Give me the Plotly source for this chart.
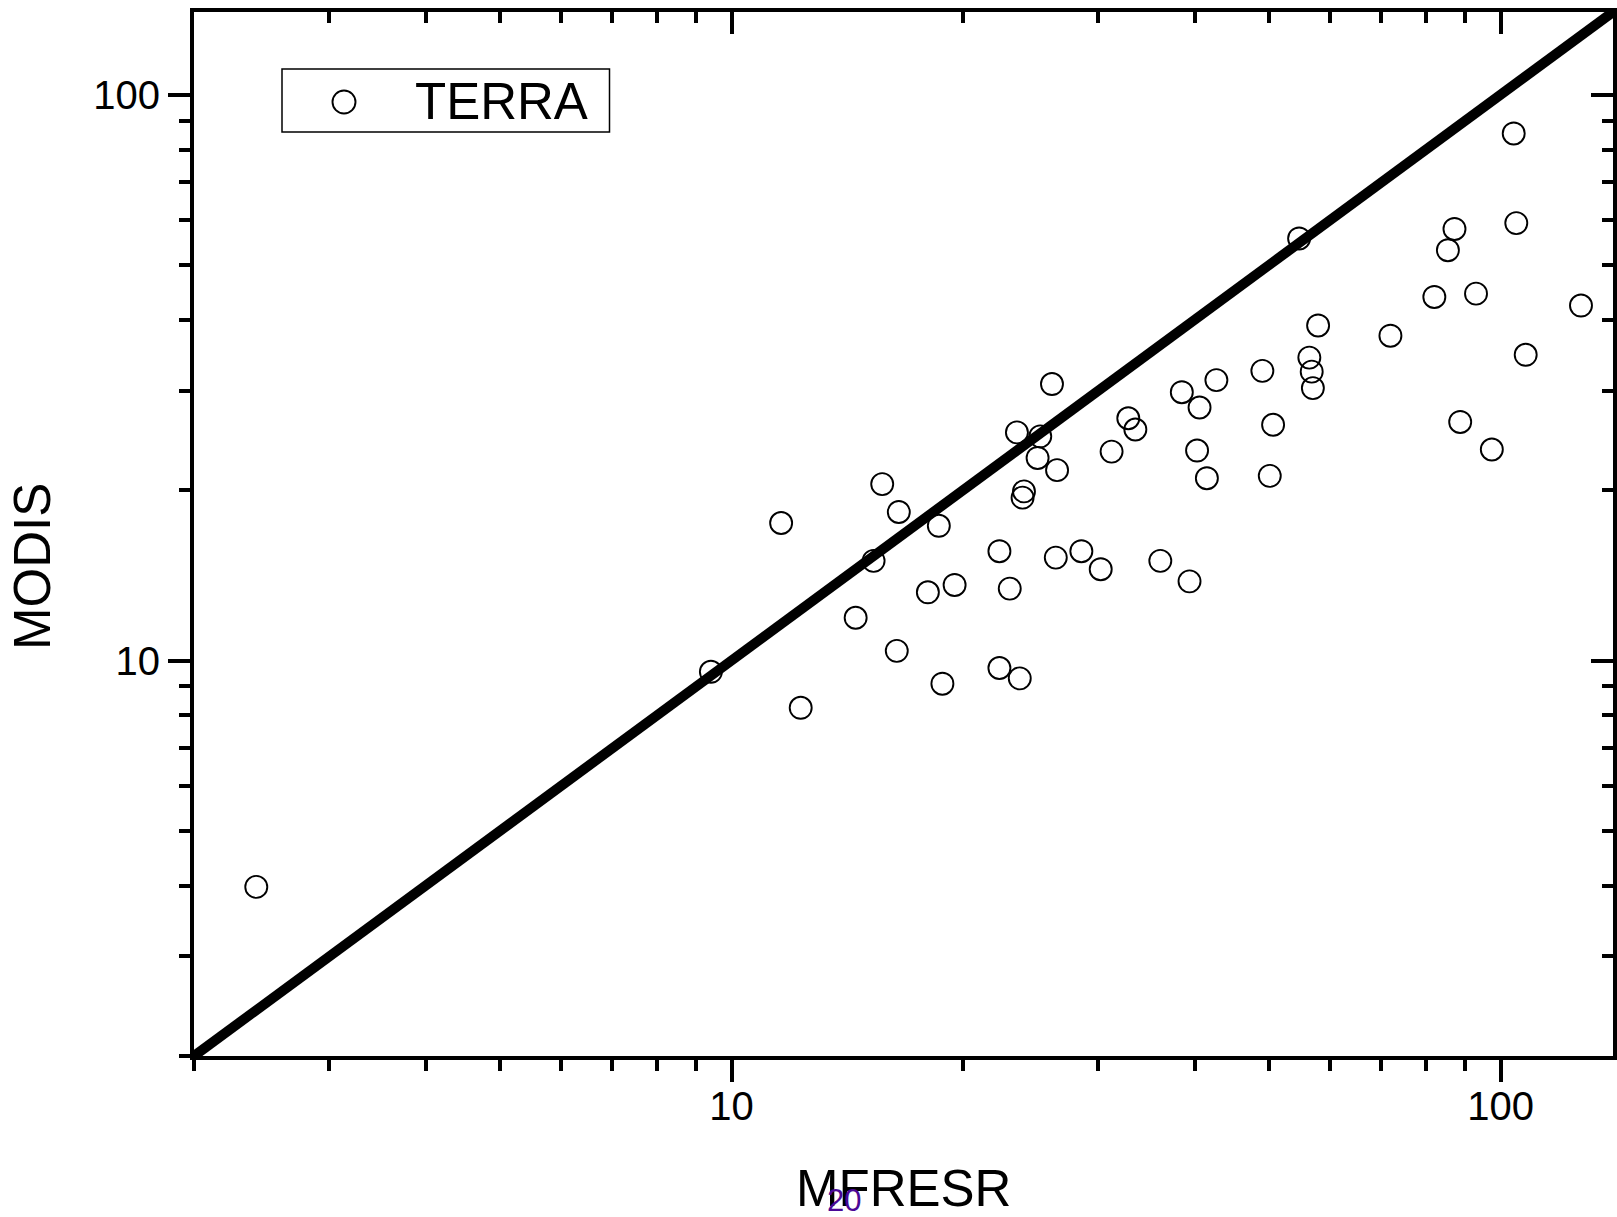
import plotly.graph_objects as go
import math

# ---- data ----
mfresr = [2.41, 9.4, 11.6, 12.3, 14.5, 15.3, 15.7, 16.4, 16.5, 18.0, 18.6, 18.8, 19.5,
          22.3, 22.3, 23.0, 23.5, 23.7, 23.9, 24.0, 25.0, 25.2, 26.1, 26.4, 26.5, 28.5,
          30.2, 31.2, 32.8, 33.5, 36.1, 38.5, 39.4, 40.3, 40.6, 41.5, 42.7, 49.0, 50.1,
          50.6, 54.7, 56.4, 56.8, 57.0, 57.9, 71.9, 82.0, 85.4, 87.1, 88.6, 92.9, 97.4,
          104.0, 104.8, 107.8, 127.2]
modis = [3.98, 9.55, 17.5, 8.25, 11.9, 15.0, 20.5, 10.4, 18.3, 13.2, 17.3, 9.1, 13.6,
         15.6, 9.7, 13.4, 25.3, 9.3, 19.4, 19.9, 22.8, 24.9, 30.8, 15.2, 21.7, 15.6,
         14.5, 23.4, 26.8, 25.6, 15.0, 29.8, 13.8, 23.5, 28.0, 21.0, 31.3, 32.5, 21.2,
         26.1, 55.7, 34.3, 32.4, 30.3, 39.1, 37.5, 43.9, 53.1, 57.9, 26.4, 44.5, 23.6,
         85.4, 59.3, 34.7, 42.4]
one_to_one = [2, 140]
axis_range = [2, 140]
major_ticks = [10, 100]
major_labels = ["10", "100"]
minor_ticks = [2, 3, 4, 5, 6, 7, 8, 9, 20, 30, 40, 50, 60, 70, 80, 90]
x_title = "MFRESR"
y_title = "MODIS"
series_name = "TERRA"
stray_label = "20"

FONT = "Liberation Sans, Arial, sans-serif"
W, H = 1617, 1217
L, R, T, B = 194, 4, 12, 161
PW, PH = W - L - R, H - T - B


def px_x(px):
    return (px - L) / PW


def px_y(py):
    return (H - B - py) / PH


lrange = [math.log10(v) for v in axis_range]

fig = go.Figure()
fig.add_trace(go.Scatter(
    x=mfresr, y=modis, mode="markers", name=series_name, showlegend=False,
    marker=dict(symbol="circle-open", size=22, color="black", line=dict(width=1.9, color="black")),
))
fig.add_trace(go.Scatter(
    x=one_to_one, y=one_to_one, mode="lines", showlegend=False,
    line=dict(color="black", width=10),
))
# invisible helpers so the mirrored (top / right) axes get drawn
fig.add_trace(go.Scatter(x=one_to_one, y=one_to_one, xaxis="x2", yaxis="y", mode="lines",
                         opacity=0, showlegend=False, hoverinfo="skip"))
fig.add_trace(go.Scatter(x=one_to_one, y=one_to_one, xaxis="x", yaxis="y2", mode="lines",
                         opacity=0, showlegend=False, hoverinfo="skip"))

common = dict(
    type="log", range=lrange, showgrid=False, zeroline=False,
    showline=True, linecolor="black", linewidth=4,
    tickmode="array", tickvals=major_ticks, ticktext=major_labels,
    ticklen=22, tickwidth=4, tickcolor="black",
    tickfont=dict(family=FONT, size=40, color="black"),
    minor=dict(tickmode="array", tickvals=minor_ticks, ticklen=11, tickwidth=4, tickcolor="black"),
)

xa = dict(common)
xa.update(ticks="outside", ticklabelstandoff=-10)
xa["minor"] = dict(common["minor"], ticks="outside")
ya = dict(common)
ya.update(ticks="outside")
ya["minor"] = dict(common["minor"], ticks="outside")

xa2 = dict(common)
xa2.update(ticks="inside", overlaying="x", side="top", anchor="y", showticklabels=False)
xa2["minor"] = dict(common["minor"], ticks="inside")
ya2 = dict(common)
ya2.update(ticks="inside", overlaying="y", side="right", anchor="x", showticklabels=False)
ya2["minor"] = dict(common["minor"], ticks="inside")

fig.update_layout(
    width=W, height=H,
    margin=dict(l=L, r=R, t=T, b=B, pad=0),
    paper_bgcolor="white", plot_bgcolor="white",
    font=dict(family=FONT, color="black"),
    xaxis=xa, yaxis=ya, xaxis2=xa2, yaxis2=ya2,
    showlegend=False,
)

# axis titles
fig.add_annotation(text=x_title, xref="paper", yref="paper", x=px_x(903), y=px_y(1188),
                   xanchor="center", yanchor="middle", showarrow=False,
                   font=dict(family=FONT, size=51, color="black"))
fig.add_annotation(text=y_title, xref="paper", yref="paper", x=px_x(33), y=px_y(567),
                   xanchor="center", yanchor="middle", showarrow=False, textangle=-90,
                   font=dict(family=FONT, size=51, color="black"))
fig.add_annotation(text=stray_label, xref="paper", yref="paper", x=px_x(844), y=px_y(1200),
                   xanchor="center", yanchor="middle", showarrow=False, height=30,
                   font=dict(family=FONT, size=31, color="#4b0896"))

# legend box
fig.add_shape(type="rect", xref="paper", yref="paper",
              x0=px_x(282), x1=px_x(609.5), y0=px_y(132), y1=px_y(69),
              line=dict(color="black", width=1.5), fillcolor="rgba(0,0,0,0)")
fig.add_shape(type="circle", xref="paper", yref="paper",
              xsizemode="pixel", ysizemode="pixel",
              xanchor=px_x(344), yanchor=px_y(102), x0=-11.5, x1=11.5, y0=-11.5, y1=11.5,
              line=dict(color="black", width=1.9))
fig.add_annotation(text=series_name, xref="paper", yref="paper", x=px_x(413), y=px_y(101),
                   xanchor="left", yanchor="middle", showarrow=False,
                   font=dict(family=FONT, size=51, color="black"))

fig.write_html("out.html")
